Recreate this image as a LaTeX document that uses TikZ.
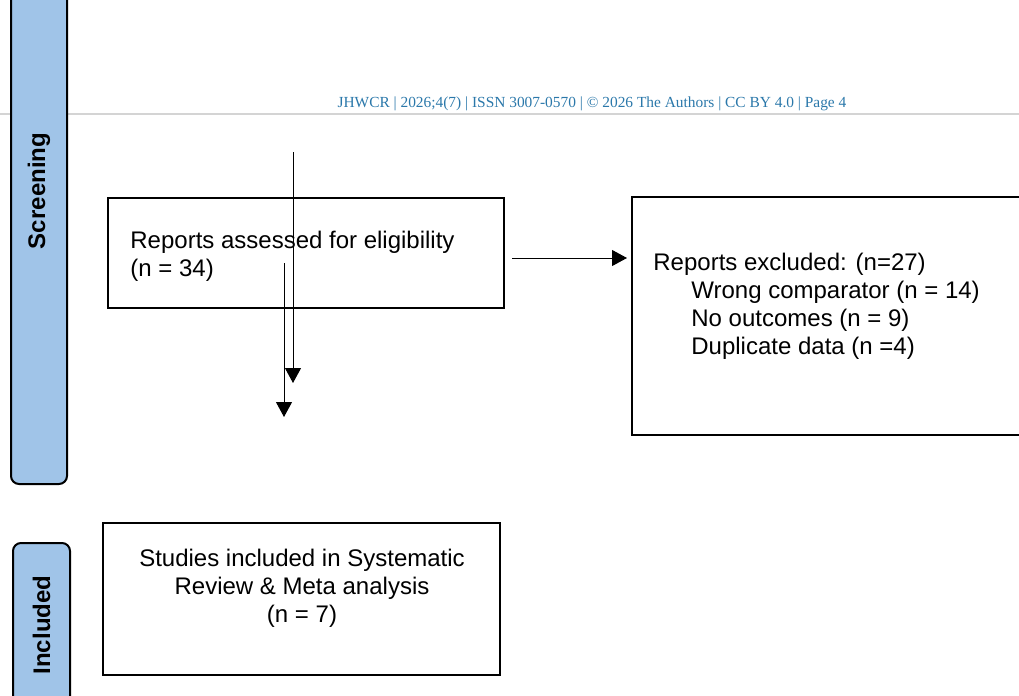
\documentclass[tikz,border=0pt]{standalone}
\usepackage{fontspec}
\setmainfont{Liberation Sans}
\newfontfamily\headfont{Liberation Serif}
\usetikzlibrary{arrows.meta,positioning}
\definecolor{barblue}{RGB}{160,196,232}
\definecolor{headblue}{RGB}{43,120,170}
\definecolor{rulegray}{RGB}{212,212,212}

\begin{document}
\begin{tikzpicture}[x=0.5pt, y=-0.5pt, >={Triangle[length=7.5pt,width=8pt]},
    box/.style={draw, line width=1pt, inner sep=0pt},
    phase/.style={draw, line width=1pt, fill=barblue, rounded corners=4pt, rotate=90,
        inner sep=0pt, font=\bfseries\fontsize{12}{14}\selectfont},
    txt/.style={font=\fontsize{12}{14}\selectfont, inner sep=0pt},
    conn/.style={->, line width=0.5pt}]
\useasboundingbox (0,0) rectangle (1019,696);
% page header
\draw[rulegray, line width=1pt] (0,114) -- (1019,114);
\node[inner sep=0pt, text=headblue, font=\headfont\fontsize{7.7}{9}\selectfont] (head) at (592,103.5)
    {JHWCR | 2026;4(7) | ISSN 3007-0570 | \textcopyright{} 2026 The Authors | CC BY 4.0 | Page 4};
% phase bars
\node[phase, minimum width=293pt, minimum height=28pt] (screen) at (39,191) {Screening};
\node[phase, minimum width=82pt, minimum height=28.5pt] (incl) at (41.5,625) {Included};
% boxes
\node[box, minimum width=198pt, minimum height=55pt] (elig) at (306,253) {};
\node[txt, align=left, anchor=north west] (eligtxt) at (130,231)
    {Reports assessed for eligibility\\(n = 34)};
\node[box, minimum width=199pt, minimum height=119pt] (excl) at (831,316) {};
\node[txt, align=left, anchor=north west] (excltxt) at (653,253)
    {Reports excluded: (n=27)\\
     \hspace{19pt}Wrong comparator (n = 14)\\
     \hspace{19pt}No outcomes (n = 9)\\
     \hspace{19pt}Duplicate data (n =4)};
\node[box, minimum width=198.5pt, minimum height=76pt] (study) at (301.5,599) {};
\node[txt, align=center, anchor=north] (studytxt) at (302,549)
    {Studies included in Systematic\\Review \& Meta analysis\\(n = 7)};
% connectors
\coordinate (topA) at (293,152);
\coordinate (endA) at (293,383);
\coordinate (topB) at (284,263);
\coordinate (endB) at (284,417);
\draw[conn] (topA) -- (endA);
\draw[conn] (topB) -- (endB);
\draw[conn] ([xshift=3.5pt,yshift=-2.5pt]elig.east) -- ([xshift=-2pt,yshift=-2.5pt]elig.east -| excl.west);
\end{tikzpicture}
\end{document}
